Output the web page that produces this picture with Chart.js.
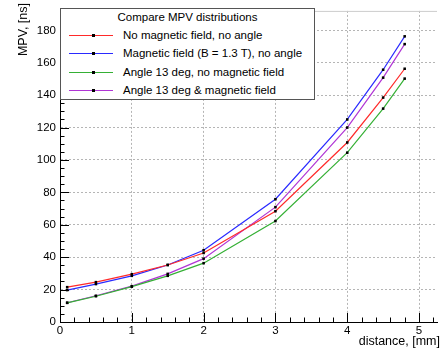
<!DOCTYPE html>
<html>
<head>
<meta charset="utf-8">
<script src="https://cdn.jsdelivr.net/npm/chart.js@4.4.1/dist/chart.umd.min.js"></script>
<style>
html, body { margin: 0; padding: 0; background: #fff; }
#wrap { position: relative; width: 441px; height: 350px; font-family: "Liberation Sans", Arial, sans-serif; color: #000; }
#chart { position: absolute; left: 0; top: 0; }
#legend { position: absolute; left: 60px; top: 8px; width: 253px; height: 90px; border: 1px solid #555; background: #fff; font-size: 11.5px; }
#legend .ttl { position: absolute; left: 0; width: 100%; top: 1px; text-align: center; line-height: 15px; }
#legend .row { position: absolute; left: 0; width: 100%; height: 15px; }
#legend .ln { position: absolute; left: 8px; width: 44px; top: 7px; height: 1.2px; }
#legend .pt { position: absolute; left: 31px; top: 6px; width: 3px; height: 3px; background: #000; }
#legend .tx { position: absolute; left: 62px; top: 0; line-height: 15px; white-space: nowrap; }
#ytitle { position: absolute; left: 15px; top: 65px; width: 62px; height: 16px; line-height: 16px; text-align: right; font-size: 12.5px; transform: rotate(-90deg); transform-origin: left top; white-space: nowrap; }
#xtitle { position: absolute; right: 1px; top: 333px; line-height: 16px; font-size: 12.5px; white-space: nowrap; }
</style>
</head>
<body>
<div id="wrap">
  <canvas id="chart" width="441" height="350"></canvas>
  <div id="legend"></div>
  <div id="ytitle">MPV, [ns]</div>
  <div id="xtitle">distance, [mm]</div>
</div>
<script>
const distances = [0.1, 0.5, 1, 1.5, 2, 3, 4, 4.5, 4.8];
const noFieldNoAngle = [21.5, 24.6, 29.5, 35.2, 42.6, 68.4, 110.8, 138.5, 156.3];
const fieldNoAngle = [19.7, 23.4, 28.5, 35.2, 44.3, 75.8, 125.0, 155.7, 176.3];
const angleNoField = [11.8, 15.9, 21.8, 28.5, 36.3, 62.3, 104.5, 131.7, 150.2];
const angleAndField = [11.9, 16.2, 22.1, 29.7, 39.1, 70.9, 120.0, 150.8, 171.5];

const seriesNames = [
  'No magnetic field, no angle',
  'Magnetic field (B = 1.3 T), no angle',
  'Angle 13 deg, no magnetic field',
  'Angle 13 deg & magnetic field'
];
const seriesValues = [noFieldNoAngle, fieldNoAngle, angleNoField, angleAndField];
const seriesColors = ['#ff2a2a', '#2a2aff', '#35b035', '#b035d5'];

const xTicks = [0, 1, 2, 3, 4, 5];
const yTicks = [0, 20, 40, 60, 80, 100, 120, 140, 160, 180];
const legendTitle = 'Compare MPV distributions';

const fontFamily = '"Liberation Sans", Arial, sans-serif';

// legend in html, on top of the canvas
const legend = document.getElementById('legend');
legend.innerHTML = `<div class="ttl">${legendTitle}</div>` + seriesNames.map((name, i) =>
  `<div class="row" style="top:${19 + i * 18.3}px"><div class="ln" style="background:${seriesColors[i]}"></div><div class="pt"></div><div class="tx">${name}</div></div>`
).join('');

// inward ticks (major + minor) and the thin top frame
const axisDeco = {
  id: 'axisDeco',
  afterDraw(chart) {
    const { ctx, chartArea, scales } = chart;
    const xs = scales.x, ys = scales.y;
    ctx.save();
    ctx.strokeStyle = '#000';
    ctx.lineWidth = 1;
    ctx.beginPath();
    for (let i = 0; i <= 26; i++) {
      const v = i * 0.2;
      if (v > xs.max) break;
      const px = Math.round(xs.getPixelForValue(v)) + 0.5;
      const len = i % 5 === 0 ? 9 : 4.5;
      ctx.moveTo(px, chartArea.bottom);
      ctx.lineTo(px, chartArea.bottom - len);
    }
    for (let i = 0; i <= 38; i++) {
      const v = i * 5;
      if (v > ys.max) break;
      const py = Math.round(ys.getPixelForValue(v)) + 0.5;
      const len = i % 4 === 0 ? 9 : 4.5;
      ctx.moveTo(chartArea.left, py);
      ctx.lineTo(chartArea.left + len, py);
    }
    ctx.stroke();
    ctx.strokeStyle = '#ccc';
    ctx.beginPath();
    ctx.moveTo(chartArea.left, chartArea.top + 0.5);
    ctx.lineTo(chartArea.right, chartArea.top + 0.5);
    ctx.stroke();
    ctx.restore();
  }
};

new Chart(document.getElementById('chart'), {
  type: 'scatter',
  data: {
    datasets: seriesNames.map((name, i) => ({
      label: name,
      data: distances.map((d, j) => ({ x: d, y: seriesValues[i][j] })),
      showLine: true,
      borderColor: seriesColors[i],
      borderWidth: 1.2,
      pointStyle: 'rect',
      pointRadius: 1.8,
      pointBackgroundColor: '#000',
      pointBorderWidth: 0
    }))
  },
  options: {
    responsive: false,
    animation: false,
    layout: { padding: { top: 9, right: 2, left: 0, bottom: 0 } },
    plugins: { legend: { display: false }, tooltip: { enabled: false } },
    scales: {
      x: {
        type: 'linear', min: 0, max: 5.25,
        afterBuildTicks: s => { s.ticks = xTicks.map(v => ({ value: v })); },
        afterFit: s => { s.height = 28; },
        ticks: { autoSkip: false, maxRotation: 0, padding: 2, color: '#000', font: { family: fontFamily, size: 11.5 } },
        grid: { color: '#b5b5b5', lineWidth: 1, drawTicks: false },
        border: { color: '#000', width: 1, dash: [2, 2] }
      },
      y: {
        type: 'linear', min: 0, max: 192,
        afterBuildTicks: s => { s.ticks = yTicks.map(v => ({ value: v })); },
        afterFit: s => { s.width = 60; },
        ticks: { autoSkip: false, padding: 4, color: '#000', font: { family: fontFamily, size: 11.5 } },
        grid: { color: '#b5b5b5', lineWidth: 1, drawTicks: false },
        border: { color: '#000', width: 1, dash: [2, 2] }
      }
    }
  },
  plugins: [axisDeco]
});
</script>
</body>
</html>
